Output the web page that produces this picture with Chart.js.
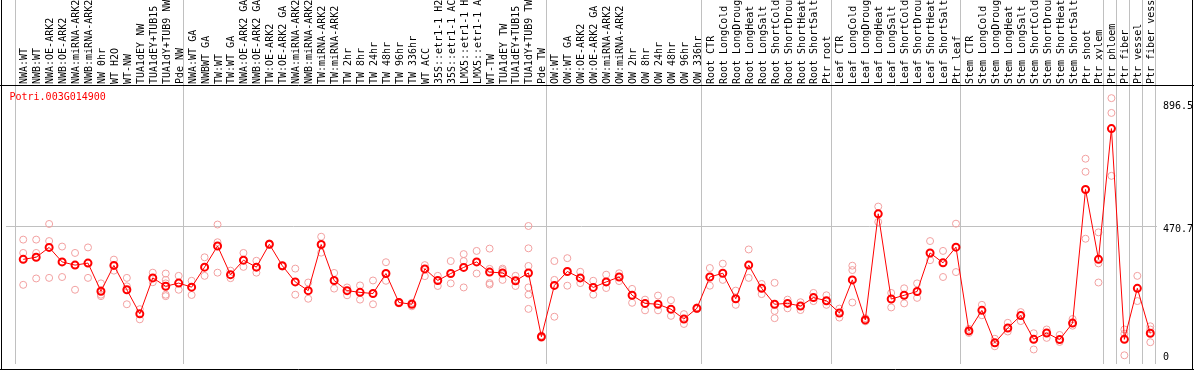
<!DOCTYPE html>
<html><head><meta charset="utf-8">
<script src="https://cdn.jsdelivr.net/npm/chart.js@4"></script>
<style>html,body{margin:0;padding:0;background:#fff}#wrap{width:1194px;height:370px;position:relative}</style>
</head><body><div id="wrap"><canvas id="c"></canvas></div>
<script>
const geneLabel = "Potri.003G014900";
const categories = [
 "NWA:WT","NWB:WT","NWA:OE-ARK2","NWB:OE-ARK2","NWA:miRNA-ARK2","NWB:miRNA-ARK2","NW 0hr","WT H2O","WT-NW","TUA1dEY NW","TUA1dEY+TUB15 NW","TUA1dY+TUB9 NW","Pde NW",
 "NWA:WT GA","NWBWT GA","TW:WT","TW:WT GA","NWA:OE-ARK2 GA","NWB:OE-ARK2 GA","TW:OE-ARK2","TW:OE-ARK2 GA","NWA:miRNA-ARK2 GA","NWB:miRNA-ARK2 GA","TW:miRNA-ARK2","TW:miRNA-ARK2 GA",
 "TW 2hr","TW 8hr","TW 24hr","TW 48hr","TW 96hr","TW 336hr","WT ACC","35S::etr1-1 H2O","35S::etr1-1 ACC","LMX5::etr1-1 H2O","LMX5::etr1-1 ACC","WT-TW","TUA1dEY TW","TUA1dEY+TUB15 TW","TUA1dY+TUB9 TW","Pde TW",
 "OW:WT","OW:WT GA","OW:OE-ARK2","OW:OE-ARK2 GA","OW:miRNA-ARK2","OW:miRNA-ARK2 GA","OW 2hr","OW 8hr","OW 24hr","OW 48hr","OW 96hr","OW 336hr",
 "Root CTR","Root LongCold","Root LongDrought","Root LongHeat","Root LongSalt","Root ShortCold","Root ShortDrought","Root ShortHeat","Root ShortSalt","Ptr root",
 "Leaf CTR","Leaf LongCold","Leaf LongDrought","Leaf LongHeat","Leaf LongSalt","Leaf ShortCold","Leaf ShortDrought","Leaf ShortHeat","Leaf ShortSalt","Ptr leaf",
 "Stem CTR","Stem LongCold","Stem LongDrought","Stem LongHeat","Stem LongSalt","Stem ShortCold","Stem ShortDrought","Stem ShortHeat","Stem ShortSalt","Ptr shoot","Ptr xylem",
 "Ptr phloem","Ptr fiber","Ptr vessel","Ptr fiber vessel"
];
const means = [
 355,362,396,346,335,342,245,334,250,167,291,262,273,
 259,328,401,302,352,328,407,333,277,247,406,282,247,241,237,306,206,200,322,282,306,327,346,311,308,281,308,88,
 265,313,291,258,277,294,231,203,200,183,149,186,
 294,307,219,335,255,200,203,194,223,212,
 170,284,146,512,218,231,244,377,343,397,
 108,179,67,118,161,79,101,78,135,596,355,
 806,79,255,100
];
const replicates = [
 [423,377,267],[423,377,289],[477,418,291],[399,294,346],[377,250,335],[396,291,342],[272,233,228,245],[354,316],[291,262,200],[183,148],[309,276],[306,284,272,233,228],[298,250],
 [281,232],[362,298],[475,414,309],[316,290],[377,329],[350,309],[410,405],[333,330],[323,233],[275,219],[433,378],[308,254],[258,231],[265,216],[282,200],[345,281],[208,203],[205,193],[335,297],[298,263],[349,272],[373,349,258],[384,306],[392,322,273,268],[323,318,284],[298,263],[470,393,332,258,233,184],[92,84],
 [349,284,157],[359,264],[312,273],[281,233],[302,256],[307,280],[253,205],[216,179],[230,179],[214,160],[166,132],[189,183],
 [325,264],[340,284],[247,198],[389,291],[270,235],[274,177,152],[216,186],[207,180],[239,211],[231,198],
 [185,154],[333,318,206],[152,141],[537,484],[239,189],[255,203],[272,222],[418,352],[384,294],[478,311],
 [101,115],[198,162],[55,81],[136,106],[173,142],[100,44],[113,84],[94,70],[149,126],[702,657,426],[448,341,275],
 [911,860,643],[113,98,24],[298,211],[124,113,69]
];
const groupBoundaries = [0,13,41,53,63,73,84,85,86,87,88];
const yLabelValues = [896.5, 470.7, 0];
const yGridValues = [470.7];

const OFF = 0.66;
const FONT = '"DejaVu Sans Mono","Liberation Mono",monospace';
const meanPts = means.map((v,i)=>({x:i+OFF,y:v}));
const repPts = [];
replicates.forEach((arr,i)=>arr.forEach(v=>repPts.push({x:i+OFF,y:v})));

const framePlugin = {
  id:'frame',
  beforeDatasetsDraw(chart){
    const c = chart.ctx, a = chart.chartArea, xs = chart.scales.x, ys = chart.scales.y;
    const W = chart.width, H = chart.height;
    c.save();
    c.font = '10px ' + FONT;
    c.fillStyle = '#000';
    c.textAlign = 'left';
    c.textBaseline = 'middle';
    categories.forEach((lab,i)=>{
      const px = xs.getPixelForValue(i+OFF);
      c.save();
      c.translate(px, 84);
      c.rotate(-Math.PI/2);
      c.fillText(lab, 0, 1.4);
      c.restore();
    });
    c.lineWidth = 1;
    c.strokeStyle = '#c0c0c0';
    groupBoundaries.forEach(b=>{
      const px = Math.round(xs.getPixelForValue(b)) + 0.5;
      c.beginPath(); c.moveTo(px,0); c.lineTo(px,a.bottom); c.stroke();
    });
    yGridValues.forEach(v=>{
      const py = Math.round(ys.getPixelForValue(v)) + 0.5;
      c.beginPath(); c.moveTo(a.left,py); c.lineTo(a.right+2,py); c.stroke();
    });
    c.strokeStyle = '#000';
    c.beginPath();
    c.moveTo(0,85.5); c.lineTo(W,85.5);
    c.moveTo(0,369.5); c.lineTo(W,369.5);
    c.moveTo(1.5,0); c.lineTo(1.5,H);
    c.moveTo(W-1.5,0); c.lineTo(W-1.5,H);
    c.stroke();
    c.fillStyle = '#ff0000';
    c.fillText(geneLabel, 9.5, 97);
    c.fillStyle = '#000';
    yLabelValues.forEach(v=>{
      let py = ys.getPixelForValue(v) + 4;
      if (py > a.bottom - 7) py = a.bottom - 7;
      c.fillText(String(v), a.right + 8, py);
    });
    c.restore();
  }
};

new Chart(document.getElementById('c'), {
  type:'scatter',
  data:{datasets:[
    {type:'line', data:meanPts, borderColor:'#ff0000', borderWidth:1, tension:0,
     pointRadius:3.5, pointBorderWidth:2, pointBorderColor:'#ff0000', pointBackgroundColor:'rgba(0,0,0,0)', order:1},
    {type:'scatter', data:repPts, pointRadius:3.5, pointBorderWidth:1,
     borderColor:'#f2a0a0', backgroundColor:'rgba(0,0,0,0)', order:2}
  ]},
  options:{
    responsive:true, maintainAspectRatio:false, animation:false,
    layout:{padding:{left:2,right:39,top:86,bottom:1}},
    plugins:{legend:{display:false}, tooltip:{enabled:false}},
    scales:{
      x:{type:'linear', display:false, min:-0.669, max:88.023},
      y:{min:-6.1, max:952.9, display:false}
    }
  },
  plugins:[framePlugin]
});
</script></body></html>
